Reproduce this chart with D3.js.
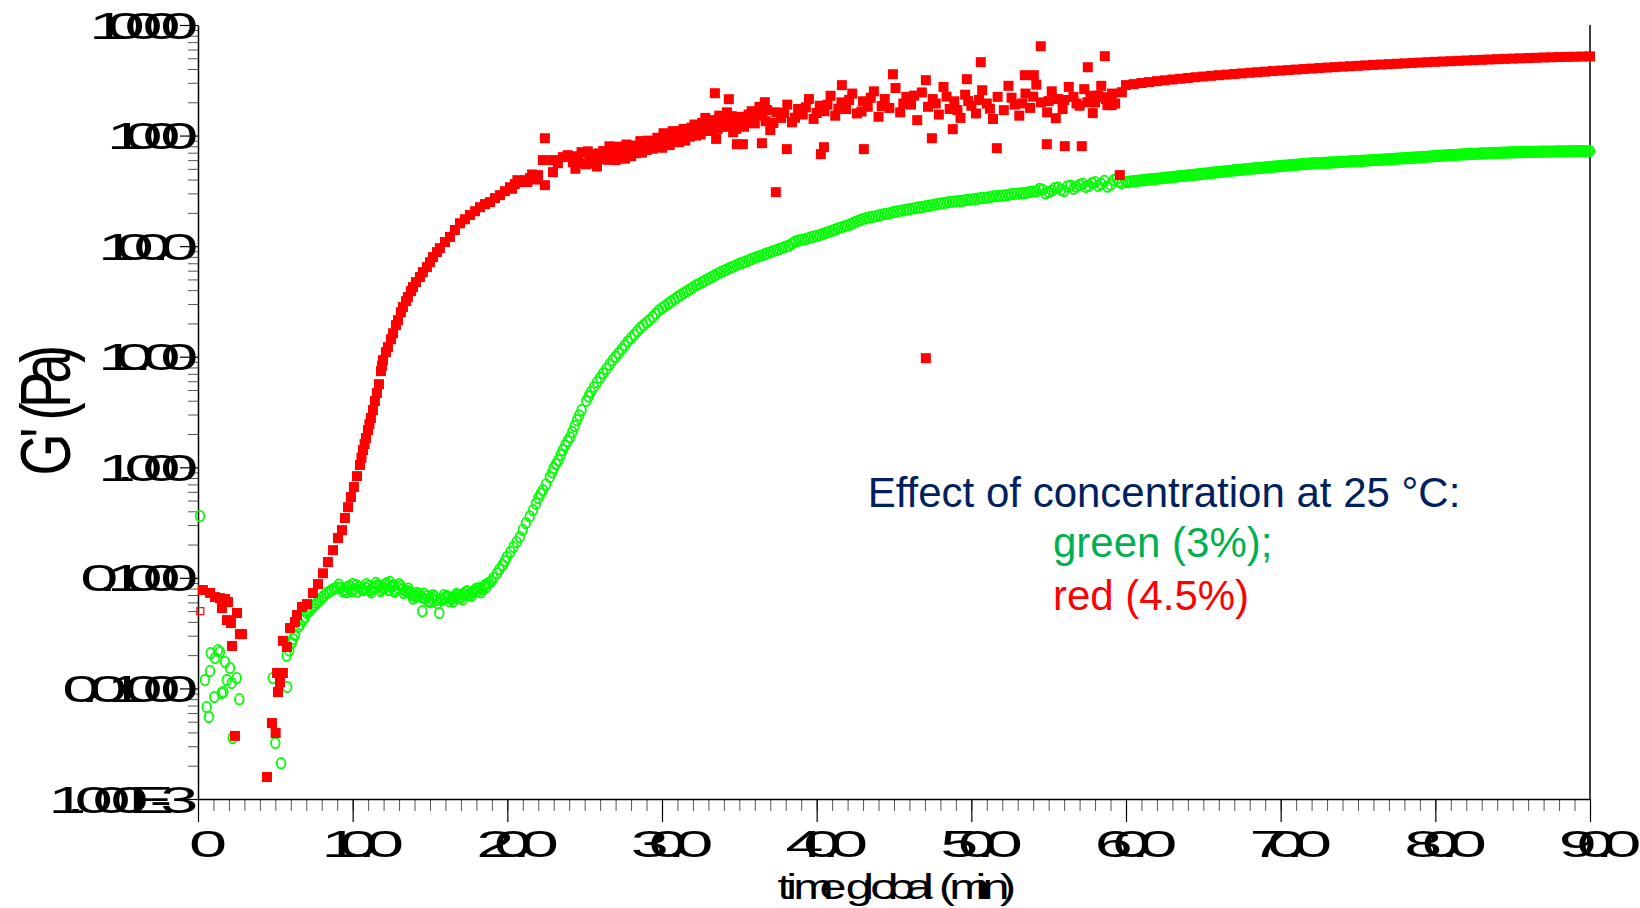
<!DOCTYPE html>
<meta charset="utf-8">
<style>
body { margin: 0; background: #fff; }
text { font-family: "Liberation Sans", Arial, sans-serif; }
.minor line { stroke: #555; stroke-width: 1; }
.major line { stroke: #000; stroke-width: 1.2; }
.domain { stroke: #000; stroke-width: 1.5; }
</style>
<body>
<script src="https://d3js.org/d3.v7.min.js"></script>
<script>
var width = 1640, height = 908;

// axis ticks and labels
var xTicks = [0, 10, 20, 30, 40, 50, 60, 70, 80, 90];
var xTickLabels = ["0", "10.0", "20.0", "30.0", "40.0", "50.0", "60.0", "70.0", "80.0", "90.0"];
var yTicks = [10000, 1000, 100, 10, 1, 0.1, 0.01, 0.001];
var yTickLabels = ["10000", "1000", "100.0", "10.00", "1.000", "0.1000", "0.01000", "1.000E-3"];

// G' (Pa) against time (min), 4.5 % sample (red)
var redOpen = [[0.15, 0.050]];
var redEarly = [[0.32,0.0776],[0.78,0.0730],[1.10,0.0670],[1.42,0.0656],[1.75,0.0643],[1.94,0.0604],[1.55,0.0533],
  [1.87,0.0415],[2.13,0.0390],[2.52,0.0481],[2.20,0.0242],[2.71,0.0310],[2.84,0.0310],[2.39,0.00372],
  [4.46,0.00158],[4.78,0.00486],[5.02,0.00395],[5.11,0.0138],[5.49,0.0138],[5.30,0.0114],[5.17,0.00927]];
var redRise = [[5.49,0.0269],[5.75,0.0237],[5.95,0.0352],[6.27,0.0398],[6.40,0.0461],[6.72,0.0545],[7.05,0.0579],
  [7.43,0.0729],[7.76,0.0879],[8.08,0.110],[8.40,0.139],[8.73,0.178],[9.05,0.229],[9.31,0.270],[9.50,0.348],
  [9.70,0.436],[9.89,0.538],[10.08,0.662],[10.28,0.832],[10.47,1.05],[10.57,1.22],[10.67,1.43],[10.77,1.62],
  [10.86,1.84],[10.99,2.17],[11.08,2.45],[11.18,2.79],[11.31,3.29],[11.44,3.97],[11.57,4.69],[11.70,5.65],
  [11.83,7.41],[11.90,8.3],[11.96,9.31],[12.15,11.0],[12.28,12.2],[12.48,14.4],[12.61,16.3],[12.80,19.3],
  [12.93,21.4],[13.12,25.3],[13.25,28.1],[13.45,31.8],[13.57,34.6],[13.77,39.2],[13.90,42.6],[14.09,47.3],
  [14.35,52.5],[14.54,58.2],[14.80,64.6],[15.00,71.6],[15.19,79.6],[15.45,88.3],[15.64,95.9],[15.97,109],
  [16.29,121],[16.61,140],[16.94,161],[17.26,175],[17.58,191],[17.91,207],[18.23,225],[18.55,240],[18.88,250],
  [19.20,272],[19.52,289],[19.84,314],[20.17,341],[20.3,330],[20.49,364],[20.65,395],[20.81,379],[21.14,395],
  [21.3,380],[21.46,412],[21.6,445],[21.72,421],[21.85,400],[21.98,439]];
var redNoisy = [[22.30,600],[22.43,946],[22.43,356],[22.95,467],[22.95,600],[23.27,562],[23.59,638],[23.9,665],[24.24,574],
  [24.4,501],[24.6,589],[24.8,708],[25.1,550],[25.3,676],[25.5,631],[25.8,525],[26.0,617],[26.2,724],[26.5,603],
  [26.7,741],[26.9,676],[27.2,794],[27.4,692],[27.6,617],[27.9,759],[28.1,813],[28.3,692],[28.6,891],[28.8,776],
  [29.0,741],[29.3,851],[29.5,832],[29.7,955],[30.0,776],[30.2,1000],[30.4,933],[30.7,1096],[30.9,912],[31.1,871],
  [31.4,1148],[31.6,1047],[31.8,977],[32.1,1259],[32.3,1175],[32.5,1023],[32.8,1445],[33.0,1230],[33.2,1122],
  [33.5,933],[33.7,1514],[33.9,1318],[34.2,1622],[34.4,1259],[34.6,1072],[34.9,1380],[35.1,1479],[35.3,1202],
  [35.6,1549],[35.8,1660],[36.0,1288],[36.3,1820],[36.5,1514],[36.7,1349],[37.0,1122],[37.4,1622],[37.7,1445],
  [38.1,1905],[38.4,1318],[38.8,1738],[39.1,1549],[39.5,2138],[39.8,1413],[40.2,1862],[40.5,1660],[40.9,2291],
  [41.2,1514],[41.6,1995],[41.9,1738],[42.3,2399],[42.6,1585],[43.0,2042],[43.3,1820],[43.7,2512],[44.0,1479],
  [44.4,2138],[44.7,1778],[45.1,2692],[45.4,1622],[45.8,2239],[46.1,1905],[46.5,1380],[46.8,2455],[47.2,1820],
  [47.5,2138],[47.9,1549],[48.2,2754],[48.6,1738],[48.9,2042],[49.3,1445],[49.6,2344],[50.0,1862],[50.3,1585],
  [50.7,2570],[51.0,1950],[51.4,1413],[51.7,2239],[52.1,1698],[52.4,2818],[52.8,1905],[53.1,1514],[53.5,2399],
  [53.8,1778],[54.2,2884],[54.5,1995],[54.9,1622],[55.2,2512],[55.6,2138],[55.9,1738],[56.3,2754],[56.6,2239],
  [57.0,1862],[57.3,2630],[57.7,2291],[58.0,1995],[58.4,2818],[58.7,2138],[59.1,2399],[59.3,1950],
  [58.5,2223],[58.8,1884],[59.08,1884],[59.73,2466],
  [24.5,650],[24.9,560],[25.2,720],[25.6,560],[25.9,690],[26.3,640],[26.6,800],[27.0,600],[27.3,700],[27.7,830],
  [28.0,650],[28.4,780],[28.7,700],[29.1,900],[29.4,760],[29.8,870],[30.1,1050],[30.5,820],[30.8,980],[31.2,1100],
  [31.5,900],[31.9,1180],[32.2,1000],[32.6,1300],[32.9,1100],[33.3,1380],[33.6,1150],[34.0,1200],[34.5,1500],
  [34.8,1150],[35.4,1400],[35.9,1300],[36.1,1550],[36.8,1700],[37.2,1300],[37.9,1600],[38.6,1450],[39.3,1800],
  [40.0,1600],[40.7,1900],[41.4,1750],[42.1,2100],[42.9,1650],[43.5,2200],[44.2,1850],[45.6,1950],[46.3,2300],
  [47.7,1950],[48.4,2250],[49.1,1700],[49.8,2050],[50.5,2100],[51.2,1750],[52.6,2200],[53.3,1950],[54.0,2250],
  [55.0,2050],[56.0,2100],[56.8,1950],[57.5,2000],[58.2,2300],[59.0,2050]];
var redOutliers = [[33.42,2416],[34.84,836],[35.23,836],[37.36,308],[38.07,754],[40.27,679],[40.47,785],[43.05,754],
  [44.93,3589],[47.45,946],[50.61,4613],[51.65,769],[54.49,6427],[54.88,836],[56.04,802],[57.14,802],[58.63,5224],
  [57.53,4150],[53.46,3516],[54.04,3516],[59.6,439],[48.8,1143],[36.46,853],[34.32,2133],[36.65,2004],[41.63,2858],
  [47.06,3170],[49.71,3236],[55.46,1436],[57.85,1596],[47.06,9.7]];
var redTail = [[60.0,2860],[60.5,2920],[61.0,2985],[61.5,3045],[62.0,3105],[62.5,3160],[63.0,3214],[63.5,3265],
  [64.0,3319],[64.5,3370],[65.0,3420],[65.5,3470],[66.0,3516],[66.5,3560],[67.0,3606],[67.5,3650],[68.0,3698],
  [68.5,3740],[69.0,3784],[69.5,3830],[70.0,3873],[70.5,3912],[71.0,3954],[71.5,3995],[72.0,4036],[72.5,4080],
  [73.0,4121],[73.5,4160],[74.0,4198],[74.5,4237],[75.0,4276],[75.5,4315],[76.0,4355],[76.5,4390],[77.0,4426],
  [77.5,4462],[78.0,4498],[78.5,4535],[79.0,4571],[79.5,4608],[80.0,4645],[80.5,4678],[81.0,4710],[81.5,4742],
  [82.0,4775],[82.5,4808],[83.0,4842],[83.5,4875],[84.0,4909],[84.5,4938],[85.0,4966],[85.5,4995],[86.0,5023],
  [86.5,5052],[87.0,5082],[87.5,5105],[88.0,5129],[88.5,5147],[89.0,5164],[89.5,5182],[90.0,5200]];

// 3 % sample (green)
var greenEarly = [[0.13,0.362],[0.45,0.0119],[0.82,0.0209],[0.78,0.0144],[1.10,0.0188],[1.29,0.0222],[1.42,0.0213],
  [1.75,0.0173],[2.07,0.0153],[1.86,0.0119],[2.18,0.0112],[2.50,0.0124],[1.05,0.00836],[1.53,0.00908],[1.64,0.0093],
  [2.67,0.0080],[0.56,0.00679],[0.71,0.00551],[2.24,0.00356],[4.83,0.0124],[5.00,0.00321],[5.37,0.00211],[5.77,0.0103]];
var greenPlateau = [[5.73,0.0198],[5.9,0.022],[6.06,0.0257],[6.15,0.028],[6.27,0.0304],[6.48,0.0359],[6.6,0.038],
  [6.79,0.0415],[6.9,0.044],[7.03,0.0481],[7.2,0.050],[7.35,0.0533],[7.5,0.056],[7.67,0.0592],[7.85,0.062],
  [8.00,0.0656],[8.15,0.069],[8.32,0.0730],[8.5,0.075],[8.64,0.0776],[8.8,0.080],[8.97,0.0809],
  [9.2,0.0809],[9.35,0.0760],[9.5,0.0776],[9.65,0.0826],[9.8,0.0843],[9.95,0.0760],[10.1,0.0793],[10.25,0.0861],
  [10.4,0.0826],[10.55,0.0793],[10.7,0.0776],[10.85,0.0809],[11.0,0.0843],[11.15,0.0776],[11.3,0.0809],
  [11.45,0.0826],[11.6,0.0861],[11.75,0.0843],[11.9,0.0793],[12.05,0.0809],[12.2,0.0897],[12.35,0.0776],
  [12.5,0.0826],[12.65,0.0861],[12.8,0.0776],[12.95,0.0809],[13.1,0.0843],[13.25,0.0793],[13.4,0.0760],
  [13.55,0.0760],[13.7,0.0730],[13.85,0.0700],[14.0,0.0685],[14.15,0.0730],[14.3,0.0715],[14.45,0.0670],
  [14.5,0.050],[14.7,0.0643],[14.85,0.0685],[15.0,0.0604],[15.15,0.0643],[15.3,0.0670],[15.45,0.0630],
  [15.6,0.0481],[15.8,0.0630],[15.95,0.0658],[16.1,0.0685],[16.25,0.0615],[16.4,0.0643],[16.55,0.0670],
  [16.7,0.0715],[16.85,0.0658],[17.0,0.0670],[17.15,0.0715],[17.3,0.0745],[17.45,0.0700],[17.6,0.0715],
  [17.75,0.0745],[17.9,0.0776],[18.05,0.0760],[18.2,0.0809],[18.35,0.0793],[18.5,0.0843],[18.65,0.0826],
  [18.8,0.0897],[18.95,0.0930],
  [9.1,0.0870],[9.6,0.0740],[10.0,0.0880],[10.3,0.0750],[10.9,0.0880],[11.2,0.0740],[11.5,0.0900],[11.8,0.0760],
  [12.1,0.0870],[12.4,0.0920],[12.7,0.0750],[13.0,0.0880],[13.3,0.0730],[13.6,0.0800],[13.9,0.0650],[14.2,0.0680],
  [14.6,0.0720],[14.9,0.0620],[15.2,0.0700],[15.5,0.0590],[15.9,0.0700],[16.2,0.0660],[16.5,0.0610],[16.8,0.0700],
  [17.1,0.0640],[17.4,0.0760],[17.7,0.0690],[18.0,0.0800],[18.3,0.0740],[18.6,0.0870]];
var greenRise = [[19.1,0.0995],[19.33,0.110],[19.5,0.120],[19.7,0.131],[19.85,0.142],[19.97,0.154],[20.2,0.171],
  [20.4,0.190],[20.6,0.211],[20.81,0.234],[21.0,0.272],[21.2,0.313],[21.45,0.360],[21.66,0.410],[21.85,0.470],
  [22.0,0.527],[22.15,0.575],[22.3,0.622],[22.5,0.700],[22.75,0.815],[22.9,0.900],[23.0,0.984],[23.15,1.07],
  [23.3,1.16],[23.45,1.30],[23.59,1.43],[23.75,1.58],[23.9,1.73],[24.05,1.87],[24.2,2.08],[24.35,2.36],[24.5,2.67],
  [24.65,2.95],[24.8,3.29],[25.1,3.98],[25.4,4.79],[25.8,5.89],[26.2,7.08],[26.6,8.51],[27.0,10.0],[27.4,11.7],
  [27.8,13.8],[28.2,15.8],[28.6,18.2],[29.0,20.4],[29.4,22.9],[29.8,26.3],[30.2,28.8],[30.6,31.6],[31.0,34.7],
  [31.4,37.6],[31.8,40.7],[32.2,44.2],[32.6,47.3],[33.0,50.7],[33.4,54.3],[33.8,58.2],[34.2,61.7],[34.6,65.3],
  [35.0,69.2],[35.4,72.4],[35.8,76.7],[36.2,80.4],[36.6,84.1],[37.0,88.1],[37.4,92.3],[37.8,96.6],[38.2,101],
  [38.6,110],[39.0,114],[39.4,117],[39.8,122],[40.2,126],[40.6,132],[41.0,138],[41.4,145],[41.8,151],[42.2,158],
  [42.6,168],[43.0,176],[43.4,182],[43.8,186],[44.2,193],[44.6,197],[45.0,204],[45.4,209],[45.8,214],[46.2,219],
  [46.6,224],[47.0,229],[47.4,234],[47.8,240],[48.2,245],[48.6,251],[49.0,254],[49.4,257],[49.8,263],[50.2,266],
  [50.6,272],[51.0,275],[51.4,282],[51.8,285],[52.2,288],[52.6,295],[53.0,299],[53.4,302],[53.8,309],[54.2,313],
  [54.6,324],[55.0,309],[55.4,335],[55.8,324],[56.2,347],[56.6,331],[57.0,359],[57.4,343],[57.8,372],[58.2,351],
  [58.6,389],[59.0,359],[59.4,407],[59.7,372],
  [25.25,4.37],[25.6,5.32],[26.0,6.46],[26.4,7.76],[26.8,9.25],[27.2,10.8],[27.6,12.7],[28.0,14.8],[28.4,17.0],
  [28.8,19.3],[29.2,21.6],[29.6,24.6],[30.0,27.5],[30.4,30.2],[30.8,33.1],[31.2,36.1],[31.6,39.1],[32.0,42.4],
  [32.4,45.7],[32.8,49.0],[33.2,52.5],[33.6,56.2],[34.0,59.9],[34.4,63.5],[34.8,67.2],[35.2,70.8],[35.6,74.5],
  [36.0,78.5],[36.4,82.2],[36.8,86.1],[37.2,90.2],[37.6,94.4],[38.0,98.8],[38.4,105],[38.8,112],[39.2,115],
  [39.6,120],[40.0,124],[40.4,129],[40.8,135],[41.2,141],[41.6,148],[42.0,154],[42.4,163],[42.8,172],[43.2,179],
  [43.6,184],[44.0,189],[44.4,195],[44.8,200],[45.2,206],[45.6,211],[46.0,216],[46.4,221],[46.8,226],[47.2,231],
  [47.6,237],[48.0,242],[48.4,248],[48.8,252],[49.2,255],[49.6,260],[50.0,264],[50.4,269],[50.8,273],[51.2,278],
  [51.6,283],[52.0,286],[52.4,291],[52.8,297],[53.2,300],[53.6,305],[54.0,311],[54.4,330],[54.8,300],[55.2,318],
  [55.6,340],[56.0,316],[56.4,352],[56.8,345],[57.2,366],[57.6,352],[58.0,380],[58.4,365],[58.8,345],[59.2,395],
  [59.55,385]];
var greenTail = [[60.0,380],[60.25,383],[60.5,387],[60.75,391],[61.0,394],[61.25,397],[61.5,401],[61.75,404],
  [62.0,407],[62.25,411],[62.5,415],[62.75,418],[63.0,422],[63.25,426],[63.5,430],[63.75,433],[64.0,437],[64.25,441],
  [64.5,444],[64.75,448],[65.0,452],[65.25,456],[65.5,460],[65.75,464],[66.0,468],[66.25,472],[66.5,476],[66.75,480],
  [67.0,484],[67.25,488],[67.5,492],[67.75,497],[68.0,501],[68.25,504],[68.5,508],[68.75,511],[69.0,515],[69.25,519],
  [69.5,523],[69.75,527],[70.0,531],[70.25,535],[70.5,538],[70.75,542],[71.0,546],[71.25,549],[71.5,553],[71.75,556],
  [72.0,560],[72.25,562],[72.5,564],[72.75,567],[73.0,569],[73.25,572],[73.5,574],[73.75,577],[74.0,579],[74.25,582],
  [74.5,584],[74.75,587],[75.0,589],[75.25,592],[75.5,594],[75.75,597],[76.0,600],[76.25,603],[76.5,606],[76.75,609],
  [77.0,612],[77.25,615],[77.5,618],[77.75,622],[78.0,625],[78.25,628],[78.5,631],[78.75,635],[79.0,638],[79.25,642],
  [79.5,645],[79.75,649],[80.0,653],[80.25,656],[80.5,660],[80.75,663],[81.0,667],[81.25,670],[81.5,673],[81.75,676],
  [82.0,679],[82.25,682],[82.5,684],[82.75,687],[83.0,689],[83.25,691],[83.5,694],[83.75,696],[84.0,698],[84.25,700],
  [84.5,702],[84.75,704],[85.0,706],[85.25,707],[85.5,709],[85.75,710],[86.0,711],[86.25,712],[86.5,714],[86.75,715],
  [87.0,716],[87.25,717],[87.5,718],[87.75,718],[88.0,719],[88.25,720],[88.5,721],[88.75,722],[89.0,723],[89.25,723],
  [89.5,724],[89.75,724],[90.0,724],
  [60.125,381],[60.375,385],[60.625,389],[60.875,392],[61.125,396],[61.375,399],[61.625,402],[61.875,406],
  [62.125,409],[62.375,413],[62.625,416],[62.875,420],[63.125,424],[63.375,428],[63.625,431],[63.875,435],
  [64.125,439],[64.375,442],[64.625,446],[64.875,450],[65.125,454],[65.375,458],[65.625,462],[65.875,466],
  [66.125,470],[66.375,474],[66.625,478],[66.875,482],[67.125,486],[67.375,490],[67.625,494],[67.875,499],
  [68.125,502],[68.375,506],[68.625,509],[68.875,513],[69.125,517],[69.375,521],[69.625,525],[69.875,529],
  [70.125,533],[70.375,536],[70.625,540],[70.875,544],[71.125,547],[71.375,551],[71.625,554],[71.875,558],
  [72.125,561],[72.375,563],[72.625,565],[72.875,568],[73.125,570],[73.375,573],[73.625,575],[73.875,578],
  [74.125,580],[74.375,583],[74.625,585],[74.875,588],[75.125,590],[75.375,593],[75.625,595],[75.875,598],
  [76.125,601],[76.375,604],[76.625,607],[76.875,610],[77.125,613],[77.375,616],[77.625,620],[77.875,623],
  [78.125,626],[78.375,629],[78.625,633],[78.875,636],[79.125,640],[79.375,643],[79.625,647],[79.875,651],
  [80.125,654],[80.375,658],[80.625,661],[80.875,665],[81.125,668],[81.375,671],[81.625,674],[81.875,677],
  [82.125,680],[82.375,683],[82.625,685],[82.875,688],[83.125,690],[83.375,692],[83.625,695],[83.875,697],
  [84.125,699],[84.375,701],[84.625,703],[84.875,705],[85.125,706],[85.375,708],[85.625,709],[85.875,710],
  [86.125,711],[86.375,713],[86.625,714],[86.875,715],[87.125,716],[87.375,717],[87.625,718],[87.875,719],
  [88.125,719],[88.375,720],[88.625,721],[88.875,722],[89.125,723],[89.375,723],[89.625,724],[89.875,724]];

var noteLines = ["Effect of concentration at 25 \u00B0C:", "green (3%);", "red (4.5%)"];

var x = d3.scaleLinear().domain([0, 90]).range([198, 1590]);
var y = d3.scaleLog().domain([0.001, 10000]).range([799, 25]);

var svg = d3.select("body").append("svg")
    .attr("width", width)
    .attr("height", height);

// text whose glyphs are drawn wider than their spacing (as in the source image)
var ctx = document.createElement("canvas").getContext("2d");
function squeezedText(parent, str, o) {
  ctx.font = o.posSize + "px 'Liberation Sans'";
  var gaps = o.gaps || {};
  var pos = [], cur = 0;
  for (var i = 0; i < str.length; i++) {
    cur += gaps[i] || 0;
    pos.push(cur);
    cur += ctx.measureText(str[i]).width;
  }
  var start = o.anchor === "end" ? -cur : (o.anchor === "middle" ? -cur / 2 : 0);
  return parent.append("text")
      .attr("transform", "translate(" + o.x + "," + o.y + ")" + (o.rotate ? " rotate(" + o.rotate + ")" : "") +
            " translate(" + start + ",0) scale(" + o.sx + ",1)")
      .attr("x", pos.map(function(p) { return (p / o.sx).toFixed(2); }).join(" "))
      .attr("y", 0)
      .style("font-size", o.glyphSize + "px")
      .attr("fill", "#000")
      .text(str);
}

// minor ticks
var xMinor = d3.range(0, 91, 1);
var yMinor = [];
[-3, -2, -1, 0, 1, 2, 3].forEach(function(k) {
  for (var m = 2; m <= 9; m++) yMinor.push(m * Math.pow(10, k));
});

svg.append("g").attr("class", "minor")
    .attr("transform", "translate(0,799)")
    .call(d3.axisBottom(x).tickValues(xMinor).tickSize(12).tickSizeOuter(0).tickFormat(""))
    .select(".domain").remove();
svg.append("g").attr("class", "minor")
    .attr("transform", "translate(198,0)")
    .call(d3.axisLeft(y).tickValues(yMinor).tickSize(10).tickSizeOuter(0).tickFormat(""))
    .select(".domain").remove();
svg.append("g").attr("class", "major")
    .attr("transform", "translate(0,799)")
    .call(d3.axisBottom(x).tickValues(xTicks).tickSize(23).tickSizeOuter(0).tickFormat(""));
svg.append("g").attr("class", "major")
    .attr("transform", "translate(198,0)")
    .call(d3.axisLeft(y).tickValues(yTicks).tickSize(18).tickSizeOuter(0).tickFormat(""));

svg.append("line")
    .attr("x1", x(90)).attr("x2", x(90))
    .attr("y1", y(10000)).attr("y2", y(0.001))
    .attr("stroke", "#000").attr("stroke-width", 1.5);

// tick labels
xTicks.forEach(function(t, i) {
  squeezedText(svg, xTickLabels[i], {x: x(t), y: 857, anchor: "middle", posSize: 32, glyphSize: 37, sx: 1.85});
});
yTicks.forEach(function(v, i) {
  squeezedText(svg, yTickLabels[i], {x: 178, y: y(v) + 13.5, anchor: "end", posSize: 32, glyphSize: 37, sx: 1.85});
});

// axis titles
squeezedText(svg, "time global (min)", {x: 894, y: 899, anchor: "middle", posSize: 31.5, glyphSize: 36, sx: 1.35});
squeezedText(svg, "G' (Pa)", {x: 70, y: 413, rotate: -90, anchor: "middle", posSize: 37, glyphSize: 70, sx: 0.77, gaps: {1: 9}});

// green series: open circles
var greenAll = greenEarly.concat(greenPlateau, greenRise, greenTail);
svg.append("g").selectAll("ellipse")
    .data(greenAll)
  .enter().append("ellipse")
    .attr("cx", function(d) { return x(d[0]); })
    .attr("cy", function(d) { return y(d[1]); })
    .attr("rx", 4.3)
    .attr("ry", 5.2)
    .attr("fill", "none")
    .attr("stroke", "#00ff00")
    .attr("stroke-width", 1.8);

// red series: filled squares
var redAll = redEarly.concat(redRise, redNoisy, redOutliers, redTail);
svg.append("g").selectAll("rect")
    .data(redAll)
  .enter().append("rect")
    .attr("x", function(d) { return x(d[0]) - 5; })
    .attr("y", function(d) { return y(d[1]) - 5; })
    .attr("width", 10)
    .attr("height", 10)
    .attr("fill", "#ff0000");

svg.append("g").selectAll("rect")
    .data(redOpen)
  .enter().append("rect")
    .attr("x", function(d) { return x(d[0]) - 3.5; })
    .attr("y", function(d) { return y(d[1]) - 3.5; })
    .attr("width", 7)
    .attr("height", 7)
    .attr("fill", "none")
    .attr("stroke", "#ff0000")
    .attr("stroke-width", 1.2);

// annotation
svg.append("text")
    .attr("x", 1164).attr("y", 507)
    .attr("text-anchor", "middle")
    .style("font-size", "42px")
    .attr("fill", "#002060")
    .text(noteLines[0]);
svg.append("text")
    .attr("x", 1053).attr("y", 557)
    .style("font-size", "42px")
    .attr("fill", "#00b050")
    .text(noteLines[1]);
svg.append("text")
    .attr("x", 1053).attr("y", 610)
    .style("font-size", "42px")
    .attr("fill", "#ff0000")
    .text(noteLines[2]);
</script>
